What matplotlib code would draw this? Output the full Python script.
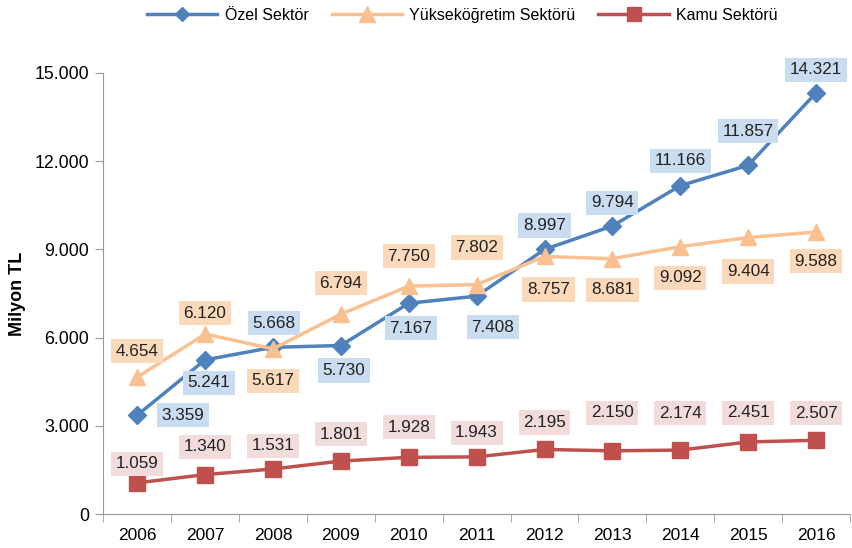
import matplotlib.pyplot as plt
import numpy as np

plt.rcParams['font.family'] = ['Liberation Sans', 'DejaVu Sans']

years = ['2006', '2007', '2008', '2009', '2010', '2011', '2012', '2013', '2014', '2015', '2016']
ozel = [3359, 5241, 5668, 5730, 7167, 7408, 8997, 9794, 11166, 11857, 14321]
yuksek = [4654, 6120, 5617, 6794, 7750, 7802, 8757, 8681, 9092, 9404, 9588]
kamu = [1059, 1340, 1531, 1801, 1928, 1943, 2195, 2150, 2174, 2451, 2507]

# label offsets in pixels (dx, dy), positive dy = up
ozel_off = [(46, 0), (4, -23), (1, 24), (3, -25), (2, -25), (16, -31), (0, 24), (0, 23), (0, 25), (0, 34), (0, 23)]
yuksek_off = [(0, 26), (0, 21), (0, -32), (0, 31), (0, 30), (0, 37), (4, -33), (0, -31), (0, -31), (0, -34), (0, -29)]
kamu_off = [(0, 19), (0, 28), (0, 23), (0, 27), (0, 30), (0, 24), (0, 27), (0, 38), (0, 37), (0, 29), (0, 27)]

fig = plt.figure(figsize=(8.53, 5.48), dpi=100)
ax = fig.add_axes([0.121, 0.062, 0.8755, 0.805])

x = np.arange(len(years))
series = [
    (ozel, 'Özel Sektör', '#4f81bd', 'D', 9, '#c9dcf0', ozel_off),
    (yuksek, 'Yükseköğretim Sektörü', '#fac08f', '^', 11, '#fcd9bb', yuksek_off),
    (kamu, 'Kamu Sektörü', '#c0504d', 's', 11, '#f2dcdb', kamu_off),
]
for vals, name, col, mk, ms, boxcol, offs in series:
    ax.plot(x, vals, color=col, marker=mk, markersize=ms, linewidth=2.5, label=name)
for vals, name, col, mk, ms, boxcol, offs in series:
    for xi, v, (dx, dy) in zip(x, vals, offs):
        ax.annotate(f'{v:,}'.replace(',', '.'), (xi, v), xytext=(dx, dy),
                    textcoords='offset pixels', ha='center', va='center',
                    fontsize=12.3, color='#222222',
                    bbox=dict(boxstyle='square,pad=0.27', fc=boxcol, ec='none'))

ax.set_xlim(-0.5, len(years) - 0.5)
ax.set_ylim(0, 15000)
ax.set_yticks(np.arange(0, 15001, 3000))
ax.set_yticklabels([f'{t:,}'.replace(',', '.') if t else '0' for t in range(0, 15001, 3000)])
ax.set_xticks(x)
ax.set_xticklabels(years)
ax.set_xticks(np.arange(-0.5, len(years), 1), minor=True)
ax.tick_params(axis='x', which='major', length=0, pad=10, labelsize=12.5)
ax.tick_params(axis='x', which='minor', length=6, color='#999999')
ax.tick_params(axis='y', length=6, color='#999999', labelsize=12.8, pad=4)
for side in ['top', 'right']:
    ax.spines[side].set_visible(False)
for side in ['left', 'bottom']:
    ax.spines[side].set_color('#999999')
ax.set_ylabel('Milyon TL', fontsize=13, fontweight='bold', labelpad=6)

leg = fig.legend(loc='upper center', bbox_to_anchor=(0.542, 1.012), ncol=3, frameon=False,
                 fontsize=11.5, handlelength=4.4, handletextpad=0.45, columnspacing=1.45)
for h, s in zip(leg.legend_handles, [7, 11, 10]):
    h.set_markersize(s)

fig.savefig('out.png', dpi=100)
